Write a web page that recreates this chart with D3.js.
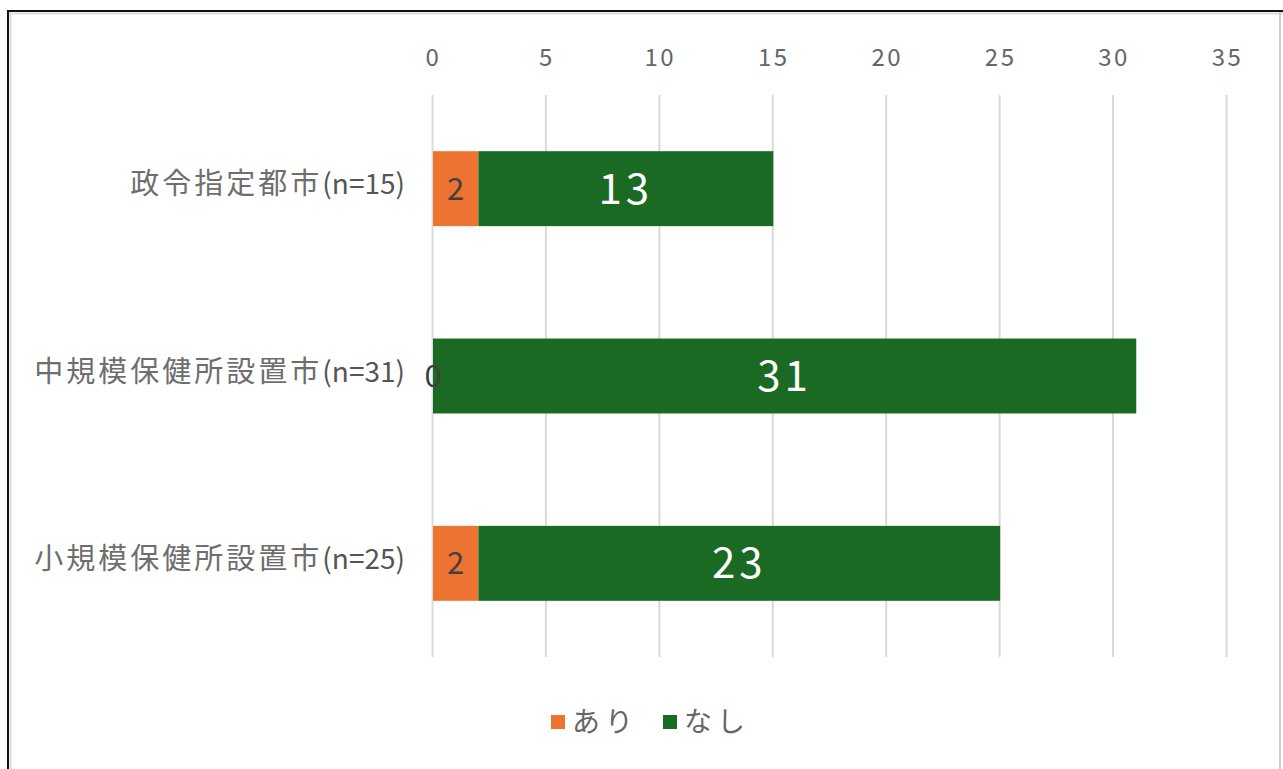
<!DOCTYPE html>
<html>
<head>
<meta charset="utf-8">
<script src="https://cdn.jsdelivr.net/npm/d3@7"></script>
<style>
  body { margin: 0; background: #fff; }
  svg { display: block; }
</style>
</head>
<body>
<script>
//------------ DATA ----------------------
const categories = ["政令指定都市(n=15)", "中規模保健所設置市(n=31)", "小規模保健所設置市(n=25)"];
const ariValues = [2, 0, 2];
const nashiValues = [13, 31, 23];
const seriesNames = ["あり", "なし"];
const tickValues = [0, 5, 10, 15, 20, 25, 30, 35];
const colors = ["#ED7331", "#1B6A24"];

//------------ SET UP SVG ----------------------
const width = 1283, height = 769;
const font = "'Noto Sans CJK JP', 'Noto Sans', sans-serif";

const svg = d3.select("body").append("svg")
    .attr("width", width)
    .attr("height", height);

// frame
svg.append("rect").attr("x", 0).attr("y", 0).attr("width", width).attr("height", height).attr("fill", "#fff");
svg.append("line").attr("x1", 8).attr("x2", 8).attr("y1", 10).attr("y2", height).attr("stroke", "#111").attr("stroke-width", 2);
svg.append("line").attr("x1", 8).attr("x2", width).attr("y1", 11).attr("y2", 11).attr("stroke", "#111").attr("stroke-width", 2);
svg.append("line").attr("x1", 10.5).attr("x2", 10.5).attr("y1", 12).attr("y2", height).attr("stroke", "#ddd").attr("stroke-width", 2);
svg.append("line").attr("x1", 10).attr("x2", width).attr("y1", 13.5).attr("y2", 13.5).attr("stroke", "#ddd").attr("stroke-width", 2);
svg.append("line").attr("x1", 1280).attr("x2", 1280).attr("y1", 12).attr("y2", height).attr("stroke", "#ccc").attr("stroke-width", 2);

//------------ SCALES ----------------------
const x = d3.scaleLinear().domain([0, 35]).range([432, 1226]);
const y = d3.scaleBand().domain(categories).range([95, 657]).paddingInner(0.6).paddingOuter(0.3);

// gridlines
svg.append("g")
    .selectAll("line")
    .data(tickValues)
    .join("line")
    .attr("x1", d => x(d) + 0.5)
    .attr("x2", d => x(d) + 0.5)
    .attr("y1", 95)
    .attr("y2", 657)
    .attr("stroke", "#d9d9d9")
    .attr("stroke-width", 2);

// top axis labels
const axis = svg.append("g")
    .attr("transform", "translate(1,66)")
    .call(d3.axisTop(x).tickValues(tickValues).tickSize(0).tickPadding(0));
axis.select(".domain").remove();
axis.selectAll("text")
    .attr("fill", "#666")
    .style("font-family", font)
    .style("font-size", "24px")
    .style("letter-spacing", "2.5px");

// category labels: CJK part is spaced wider than the (n=..) part
const catLabels = svg.append("g")
    .selectAll("text")
    .data(categories)
    .join("text")
    .attr("x", 405)
    .attr("y", d => y(d) + y.bandwidth() / 2)
    .attr("dy", "0.35em")
    .attr("text-anchor", "end")
    .attr("fill", "#6e6e6e")
    .style("font-family", font);

catLabels.append("tspan")
    .style("font-size", "29px")
    .style("letter-spacing", "3px")
    .text(d => d.slice(0, d.indexOf("(")));

catLabels.append("tspan")
    .attr("fill", "#555")
    .style("font-size", "28px")
    .text(d => d.slice(d.indexOf("(")));

//------------ BARS ----------------------
const rows = categories.map((c, i) => ({ cat: c, ari: ariValues[i], nashi: nashiValues[i] }));

svg.append("g")
    .selectAll("rect")
    .data(rows)
    .join("rect")
    .attr("x", d => x(0) + 1)
    .attr("y", d => y(d.cat))
    .attr("width", d => x(d.ari) - x(0))
    .attr("height", y.bandwidth())
    .attr("fill", colors[0]);

svg.append("g")
    .selectAll("rect")
    .data(rows)
    .join("rect")
    .attr("x", d => x(d.ari) + 1)
    .attr("y", d => y(d.cat))
    .attr("width", d => x(d.ari + d.nashi) - x(d.ari))
    .attr("height", y.bandwidth())
    .attr("fill", colors[1]);

// data labels
svg.append("g")
    .selectAll("text")
    .data(rows)
    .join("text")
    .attr("x", d => (x(0) + x(d.ari)) / 2 + 1)
    .attr("y", d => y(d.cat) + y.bandwidth() / 2)
    .attr("dy", "0.36em")
    .attr("text-anchor", "middle")
    .attr("fill", "#404040")
    .style("font-family", font)
    .style("font-size", "31px")
    .text(d => d.ari);

svg.append("g")
    .selectAll("text")
    .data(rows)
    .join("text")
    .attr("x", d => (x(d.ari) + x(d.ari + d.nashi)) / 2 + 1)
    .attr("y", d => y(d.cat) + y.bandwidth() / 2)
    .attr("dy", "0.36em")
    .attr("text-anchor", "middle")
    .attr("fill", "#fff")
    .style("font-family", font)
    .style("font-size", "42px")
    .style("letter-spacing", "4px")
    .text(d => d.nashi);

//------------ LEGEND ----------------------
const legendX = [551, 663];
const legend = svg.append("g")
    .selectAll("g")
    .data(seriesNames)
    .join("g")
    .attr("transform", (d, i) => `translate(${legendX[i]},722)`);

legend.append("rect")
    .attr("x", 0)
    .attr("y", -7)
    .attr("width", 14)
    .attr("height", 14)
    .attr("fill", (d, i) => colors[i]);

legend.append("text")
    .attr("x", 21)
    .attr("y", 0)
    .attr("dy", "0.35em")
    .attr("fill", "#666")
    .style("font-family", font)
    .style("font-size", "28px")
    .style("letter-spacing", "5px")
    .text(d => d);
</script>
</body>
</html>
